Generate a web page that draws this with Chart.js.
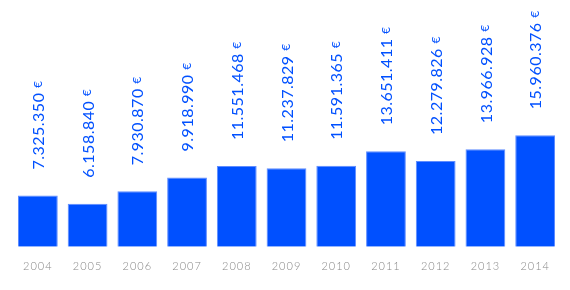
<!DOCTYPE html>
<html>
<head>
<meta charset="utf-8">
<script src="https://cdn.jsdelivr.net/npm/chart.js@4/dist/chart.umd.min.js"></script>
<style>
  html, body { margin: 0; padding: 0; background: #fff; }
  #wrap { width: 570px; height: 290px; }
</style>
</head>
<body>
<div id="wrap"><canvas id="myBarChart"></canvas></div>
<script>
// 年
var years = ["2004", "2005", "2006", "2007", "2008", "2009", "2010", "2011", "2012", "2013", "2014"];
// 金額（ユーロ）
var amounts = [7325350, 6158840, 7930870, 9918990, 11551468, 11237829, 11591365, 13651411, 12279826, 13966928, 15960376];

var blue = "#0050ff";

function formatEuro(v) {
    return String(v).replace(/\B(?=(\d{3})+(?!\d))/g, ".");
}

// 棒の上に縦書きの金額を描く
var valueLabels = {
    id: "valueLabels",
    beforeDraw: function (chart) {
        chart.ctx.letterSpacing = "1px";
    },
    afterDatasetsDraw: function (chart) {
        var ctx = chart.ctx;
        var meta = chart.getDatasetMeta(0);
        ctx.save();
        ctx.letterSpacing = "0.5px";
        ctx.fillStyle = blue;
        ctx.textAlign = "left";
        ctx.textBaseline = "middle";
        meta.data.forEach(function (bar, i) {
            var txt = formatEuro(amounts[i]);
            ctx.save();
            ctx.translate(bar.x, bar.y - 26);
            ctx.rotate(-Math.PI / 2);
            ctx.font = "400 16px Lato";
            ctx.fillText(txt, 0, 1);
            var w = ctx.measureText(txt + " ").width;
            ctx.font = "400 12px Lato";
            ctx.fillText("€", w, 0);
            ctx.restore();
        });
        ctx.restore();
    }
};

var ctx = document.getElementById("myBarChart");
var myBarChart = new Chart(ctx, {
    type: "bar",
    data: {
        labels: years,
        datasets: [
            {
                data: amounts,
                backgroundColor: blue,
                borderColor: "#5f8cff",
                borderWidth: 1,
                barPercentage: 0.8,
                categoryPercentage: 1.0,
            },
        ],
    },
    options: {
        responsive: true,
        maintainAspectRatio: false,
        animation: false,
        layout: {
            padding: { left: 13, right: 10, top: 0, bottom: 4 },
        },
        plugins: {
            legend: { display: false },
            tooltip: { enabled: false },
        },
        scales: {
            x: {
                grid: { display: false, drawTicks: false },
                border: { display: false },
                ticks: {
                    color: "#888",
                    padding: 13,
                    font: { family: "Lato", size: 11, weight: 300 },
                },
            },
            y: {
                display: false,
                min: 0,
                max: 35300000,
            },
        },
    },
    plugins: [valueLabels],
});
</script>
</body>
</html>
